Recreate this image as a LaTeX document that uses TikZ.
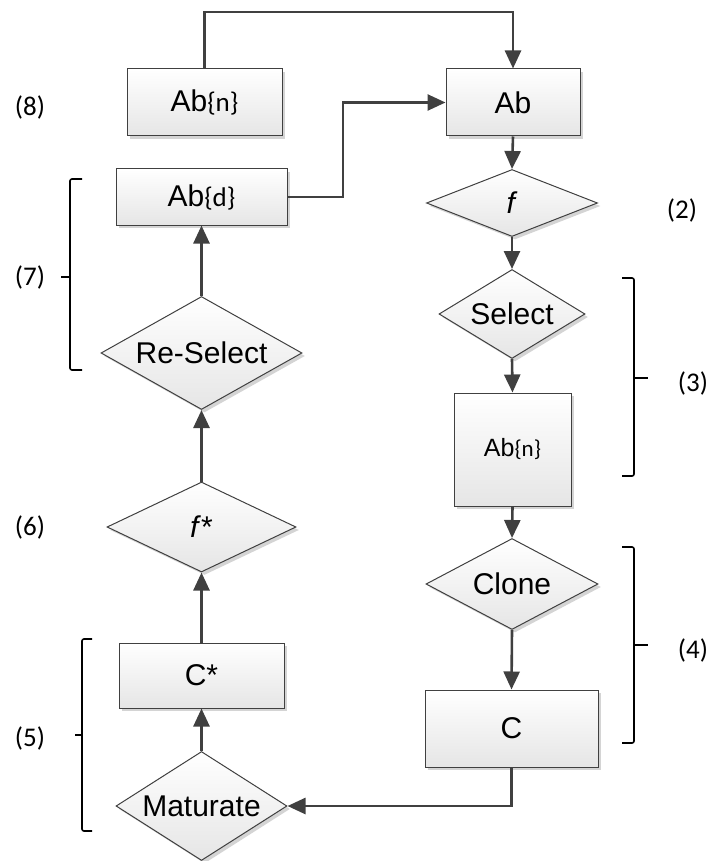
\documentclass[tikz,border=0pt]{standalone}
\usepackage{fontspec}
\setmainfont{Liberation Sans}
\newfontfamily\lblfont{Carlito}
\usetikzlibrary{shapes.geometric,arrows.meta,shadows}
\definecolor{edgec}{HTML}{404040}
\definecolor{shd}{HTML}{D4D4D4}
\newcommand{\brsub}[1]{{\lblfont\fontsize{27}{32}\selectfont\{#1\}}}
\tikzset{
 base/.style={draw=edgec, line width=1pt, top color=white, bottom color=black!10,
   drop shadow={shadow xshift=3pt,shadow yshift=-3pt,fill=shd,opacity=1},
   inner sep=0pt, font=\fontsize{30}{36}\selectfont},
 box/.style={base, rectangle},
 dia/.style={base, diamond},
 conn/.style={draw=edgec, line width=2.6pt, -{Triangle[width=16pt,length=18pt]}},
 brk/.style={draw=black, line width=1.6pt, rounded corners=2pt},
 lbl/.style={font=\lblfont\fontsize{27}{32}\selectfont, inner sep=0pt}
}
\begin{document}
\begin{tikzpicture}[x=1pt,y=-1pt]
\useasboundingbox (0,0) rectangle (711,861);
% nodes
\node[box, minimum width=155pt, minimum height=67pt] (abn1) at (204.5,102.5) {Ab\brsub{n}};
\node[box, minimum width=134pt, minimum height=67pt] (ab) at (513,102.5) {Ab};
\node[box, minimum width=171pt, minimum height=56pt] (abd) at (201.5,197) {Ab\brsub{d}};
\node[dia, minimum width=171pt, minimum height=67pt, aspect=2.55] (f) at (512,203) {\textit{f}};
\node[dia, minimum width=146pt, minimum height=89pt, aspect=1.64] (sel) at (512,314) {Select};
\node[box, minimum width=117pt, minimum height=113pt, font=\fontsize{25}{30}\selectfont] (abn2) at (512.5,449.5) {Ab{\lblfont\fontsize{23}{28}\selectfont\{n\}}};
\node[dia, minimum width=172pt, minimum height=91pt, aspect=1.89] (clone) at (512,584) {Clone};
\node[box, minimum width=173pt, minimum height=77pt] (c) at (511.5,728.5) {C};
\node[dia, minimum width=171pt, minimum height=109pt, aspect=1.57] (mat) at (201.5,806) {Maturate};
\node[box, minimum width=165pt, minimum height=65pt] (cs) at (201.5,675.5) {C*};
\node[dia, minimum width=189pt, minimum height=90pt, aspect=2.1] (fs) at (201.5,527) {\textit{f}*};
\node[dia, minimum width=201pt, minimum height=113pt, aspect=1.78] (rs) at (201.5,353) {Re-Select};
% labels
\node[lbl] (l8) at (30,107) {(8)};
\node[lbl] (l7) at (30,277) {(7)};
\node[lbl] (l6) at (30,527) {(6)};
\node[lbl] (l5) at (30,738) {(5)};
\node[lbl] (l2) at (682,210) {(2)};
\node[lbl] (l3) at (693,383) {(3)};
\node[lbl] (l4) at (693,650) {(4)};
% helper coordinates
\coordinate (top) at (0,12);
\coordinate (mid) at (343,0);
% connectors
\draw[conn] (abn1.north) -- (abn1.north |- top) -- (ab.north |- top) -- (ab.north);
\draw[conn] (abd.east) -- (abd.east -| mid) -- (ab.west -| mid) -- (ab.west);
\draw[conn] (ab.south) -- (f.north);
\draw[conn] (f.south) -- (sel.north);
\draw[conn] (sel.south) -- (abn2.north);
\draw[conn] (abn2.south) -- (clone.north);
\draw[conn] (clone.south) -- (c.north);
\draw[conn] (c.south) |- (mat.east);
\draw[conn] (mat.north) -- (cs.south);
\draw[conn] (cs.north) -- (fs.south);
\draw[conn] (fs.north) -- (rs.south);
\draw[conn] (rs.north) -- (abd.south);
% brackets
\draw[brk] (82,179) -- (70,179) -- (70,370) -- (82,370);
\draw[brk] (70,277) -- (61,277);
\draw[brk] (92,639) -- (82,639) -- (82,831) -- (92,831);
\draw[brk] (82,735) -- (75,735);
\draw[brk] (622,278) -- (634,278) -- (634,476) -- (622,476);
\draw[brk] (634,378) -- (648,378);
\draw[brk] (622,547) -- (634,547) -- (634,743) -- (622,743);
\draw[brk] (634,645) -- (648,645);
\end{tikzpicture}
\end{document}
